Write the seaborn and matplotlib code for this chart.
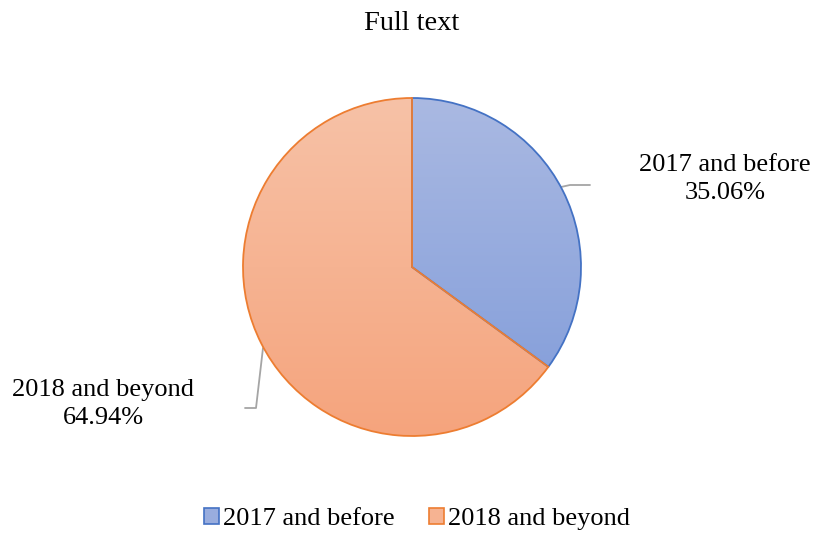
import numpy as np
import matplotlib
matplotlib.use("Agg")
import matplotlib.pyplot as plt
import seaborn as sns
from matplotlib.patches import Patch
from matplotlib.colors import LinearSegmentedColormap

categories = ["2017 and before", "2018 and beyond"]
values = [35.06, 64.94]
title = "Full text"

edge_colors = ["#4472C4", "#ED7D31"]
top_colors = ["#AAB9E2", "#F7C2A7"]
bottom_colors = ["#88A1DB", "#F5A47D"]

sns.set_theme(style="white")
plt.rcParams["font.family"] = ["Liberation Serif", "DejaVu Serif"]
plt.rcParams["text.color"] = "#000000"

W, H = 815, 533
fig = plt.figure(figsize=(W / 100, H / 100), dpi=100)
ax = fig.add_axes([0, 0, 1, 1])

cx, cy, r = 412, H - 267, 169
wedges, _ = ax.pie(values, startangle=90, counterclock=False, center=(cx, cy), radius=r,
                   frame=True,
                   wedgeprops=dict(linewidth=1.3, facecolor="none"))

for w, ec, tc, bc in zip(wedges, edge_colors, top_colors, bottom_colors):
    w.set_edgecolor(ec)
    w.set_zorder(3)
    bb = w.get_path().get_extents(w.get_patch_transform())
    cmap = LinearSegmentedColormap.from_list("g", [bc, tc])
    grad = np.linspace(0, 1, 256).reshape(-1, 1)
    im = ax.imshow(grad, cmap=cmap, origin="lower", aspect="auto",
                   extent=[bb.x0, bb.x1, bb.y0, bb.y1], zorder=2)
    im.set_clip_path(w)

ax.set_xlim(0, W)
ax.set_ylim(0, H)
ax.set_aspect("equal")
ax.axis("off")

lc = "#A5A5A5"
# leader lines
ax.plot([561, 570, 590], [H - 187, H - 185, H - 185], color=lc, lw=1.3, zorder=1)
ax.plot([263, 256, 245], [H - 348, H - 408, H - 408], color=lc, lw=1.3, zorder=1)

fs = 19
ax.text(725, H - 179, f"{categories[0]}\n{values[0]:.2f}%", ha="center", va="center",
        fontsize=fs, color="#000000", linespacing=1.32)
ax.text(103, H - 404, f"{categories[1]}\n{values[1]:.2f}%", ha="center", va="center",
        fontsize=fs, color="#000000", linespacing=1.32)

ax.text(412, H - 23, title, ha="center", va="center", fontsize=20.5, color="#000000")

handles = [Patch(facecolor=(tc), edgecolor=ec, linewidth=1.2)
           for tc, ec in zip(["#99ADDE", "#F6B392"], edge_colors)]
fig.legend(handles, categories, loc="center", bbox_to_anchor=(417 / W, 1 - 519 / H), ncol=2,
           frameon=False, fontsize=fs, handlelength=0.57, handleheight=0.57,
           handletextpad=0.15, columnspacing=1.3, borderaxespad=0, borderpad=0,
           labelcolor="#000000")

fig.savefig("out.png", dpi=100)
